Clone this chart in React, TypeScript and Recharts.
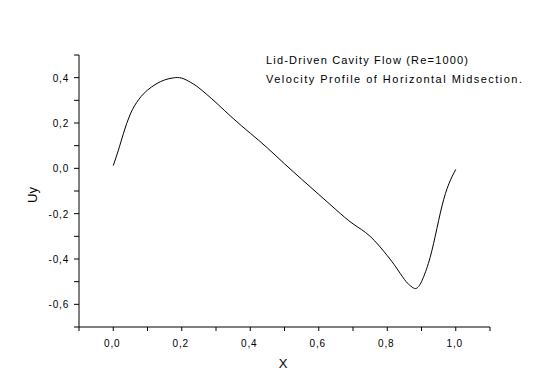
import { LineChart, Line, XAxis, YAxis, Customized } from 'recharts';

// Horizontal midsection of the lid-driven cavity, Re=1000
const xValues = [
  0, 0.015, 0.03, 0.05, 0.075, 0.1, 0.125, 0.15, 0.175, 0.2, 0.225, 0.25, 0.3, 0.35, 0.4,
  0.45, 0.5, 0.55, 0.6, 0.65, 0.7, 0.75, 0.8, 0.825, 0.85, 0.865, 0.88, 0.89, 0.9, 0.92,
  0.94, 0.96, 0.98, 1.0,
];
const uyValues = [
  0.012, 0.08, 0.155, 0.24, 0.305, 0.345, 0.372, 0.39, 0.399, 0.398, 0.38, 0.355, 0.29, 0.22,
  0.155, 0.09, 0.02, -0.048, -0.115, -0.182, -0.245, -0.3, -0.385, -0.435, -0.49, -0.515,
  -0.53, -0.524, -0.5, -0.42, -0.3, -0.165, -0.068, -0.005,
];

const xTicks = [-0.1, 0, 0.1, 0.2, 0.3, 0.4, 0.5, 0.6, 0.7, 0.8, 0.9, 1.0, 1.1];
const xLabelled = [0, 0.2, 0.4, 0.6, 0.8, 1.0];
const yTicks = [-0.7, -0.6, -0.5, -0.4, -0.3, -0.2, -0.1, 0, 0.1, 0.2, 0.3, 0.4, 0.5];
const yLabelled = [-0.6, -0.4, -0.2, 0, 0.2, 0.4];

const titleLines = ['Lid-Driven Cavity Flow (Re=1000)', 'Velocity Profile of Horizontal Midsection.'];

const data = xValues.map((x, i) => ({ x, uy: uyValues[i] }));

const FONT = '"Liberation Sans", Arial, sans-serif';

const fmt = (v: number) => v.toFixed(1).replace('.', ',');
const isLabelled = (list: number[], v: number) => list.some((t) => Math.abs(t - v) < 1e-9);

const XTick = (props: any) => {
  const { x, y, payload } = props;
  const major = isLabelled(xLabelled, payload.value);
  return (
    <g>
      <line x1={x} y1={y} x2={x} y2={y + 4} stroke="#000" />
      {major && (
        <text x={x - 1} y={y + 20} textAnchor="middle" fontSize={10} fontFamily={FONT} fill="#000" letterSpacing={0.8}>
          {fmt(payload.value)}
        </text>
      )}
    </g>
  );
};

const YTick = (props: any) => {
  const { x, y, payload } = props;
  const major = isLabelled(yLabelled, payload.value);
  return (
    <g>
      <line x1={x - 5} y1={y} x2={x} y2={y} stroke="#000" />
      {major && (
        <text x={x - 10} y={y + 4} textAnchor="end" fontSize={10} fontFamily={FONT} fill="#000" letterSpacing={0.8}>
          {fmt(payload.value)}
        </text>
      )}
    </g>
  );
};

const Labels = () => (
  <g fontFamily={FONT} fill="#000">
    <text x={266} y={64} fontSize={11} textLength={202} lengthAdjust="spacing">{titleLines[0]}</text>
    <text x={266} y={83} fontSize={11} textLength={256} lengthAdjust="spacing">{titleLines[1]}</text>
    <text x={283} y={368} fontSize={13} textAnchor="middle">X</text>
    <text x={37} y={195} fontSize={13} textAnchor="middle" transform="rotate(-90 37 195)">Uy</text>
  </g>
);

export default function App() {
  return (
    <div style={{ position: 'absolute', left: 0, top: 0, background: '#fff' }}>
      <LineChart width={540} height={386} data={data} margin={{ top: 55, right: 50, left: 0, bottom: 0 }}>
        <XAxis
          dataKey="x"
          type="number"
          domain={[-0.1, 1.1]}
          ticks={xTicks}
          interval={0}
          tick={<XTick />}
          tickLine={false}
          tickSize={0}
          tickMargin={0}
          height={59}
          axisLine={{ stroke: '#000' }}
          allowDataOverflow
        />
        <YAxis
          type="number"
          domain={[-0.7, 0.5]}
          ticks={yTicks}
          interval={0}
          tick={<YTick />}
          tickLine={false}
          tickSize={0}
          tickMargin={0}
          width={79}
          axisLine={{ stroke: '#000' }}
          allowDataOverflow
        />
        <Line
          dataKey="uy"
          type="natural"
          stroke="#000"
          strokeWidth={1}
          dot={false}
          isAnimationActive={false}
        />
        <Customized component={Labels} />
      </LineChart>
    </div>
  );
}
